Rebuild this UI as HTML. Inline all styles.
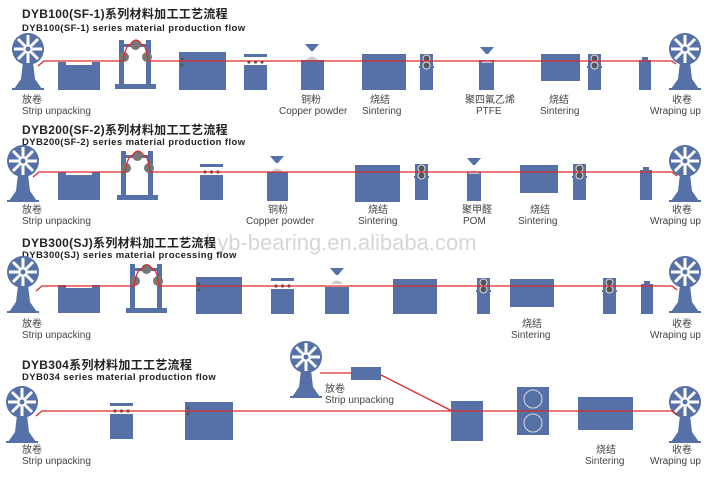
<!DOCTYPE html>
<html><head><meta charset="utf-8"><style>
html,body{margin:0;padding:0;background:#fff;}
svg{display:block;}
text{font-family:"Liberation Sans","Noto Sans CJK SC",sans-serif;fill:#333;}
.t{font-size:12px;font-weight:bold;fill:#222;letter-spacing:0.3px;}
.s{font-size:9.5px;font-weight:bold;fill:#222;letter-spacing:0.4px;}
.l{font-size:10px;fill:#444;}
.b{fill:#5670a8;}
.r{stroke:#dd2a2a;stroke-width:1.3;fill:none;}
</style></head><body>
<svg width="717" height="481" viewBox="0 0 717 481" xmlns="http://www.w3.org/2000/svg">
<defs>
<g id="reel">
 <path class="b" d="M-5,13 L5,13 L7,30 L14,40 L-14,40 L-7,30 Z"/>
 <rect class="b" x="-16" y="39" width="32" height="2"/>
 <circle class="b" r="16"/>
 <g stroke="#fff" stroke-width="3">
  <line x1="0" y1="-5" x2="0" y2="-14"/><line x1="0" y1="5" x2="0" y2="14"/>
  <line x1="-5" y1="0" x2="-14" y2="0"/><line x1="5" y1="0" x2="14" y2="0"/>
  <line x1="3.5" y1="3.5" x2="10" y2="10"/><line x1="-3.5" y1="-3.5" x2="-10" y2="-10"/>
  <line x1="3.5" y1="-3.5" x2="10" y2="-10"/><line x1="-3.5" y1="3.5" x2="-10" y2="10"/>
 </g>
 <circle fill="#fff" r="5"/><circle class="b" r="2.5"/>
</g>
<g id="tank"><path class="b" d="M0,0 H8 V3 H34 V0 H42 V28 H0 Z"/></g>
<g id="frame">
 <rect class="b" x="4" y="0" width="5" height="48"/><rect class="b" x="31" y="0" width="5" height="48"/>
 <rect class="b" x="4" y="4" width="32" height="3"/>
 <rect class="b" x="0" y="44" width="41" height="5"/>
 <circle fill="#777" cx="9" cy="17" r="5"/><circle fill="#777" cx="20.5" cy="5" r="5"/><circle fill="#777" cx="32" cy="17" r="5"/>
</g>
<g id="sbox"><rect class="b" x="0" y="0" width="23" height="3"/><rect class="b" x="0" y="11" width="23" height="25"/>
 <circle fill="#555" cx="5" cy="8" r="1.6"/><circle fill="#555" cx="11.5" cy="8" r="1.6"/><circle fill="#555" cx="18" cy="8" r="1.6"/></g>
<g id="hop"><path class="b" d="M-7,0 H7 L1,7 H-1 Z"/><path fill="#ccc" d="M-6,16 Q0,9 6,16 Z"/></g>
<g id="rol"><rect class="b" x="0" y="0" width="13" height="36"/><rect class="b" x="-1" y="12" width="15" height="2"/>
 <circle fill="#555" stroke="#ddd" stroke-width="1" cx="6.5" cy="4.5" r="3.5"/><circle fill="#555" stroke="#ddd" stroke-width="1" cx="6.5" cy="11.5" r="3.5"/></g>
<g id="bot"><rect class="b" x="0" y="3" width="12" height="30"/><rect class="b" x="3" y="0" width="6" height="4"/></g>
</defs>

<!-- ROW 1 -->
<text class="t" x="22" y="18">DYB100(SF-1)系列材料加工工艺流程</text>
<text class="s" x="22" y="31">DYB100(SF-1) series material production flow</text>
<use href="#reel" x="28" y="49"/>
<use href="#tank" x="58" y="62"/>
<use href="#frame" x="115" y="40"/>
<rect class="b" x="179" y="52" width="47" height="38"/>
<circle fill="#555" cx="182" cy="59" r="1.5"/><circle fill="#555" cx="182" cy="65" r="1.5"/>
<use href="#sbox" x="244" y="54"/>
<rect class="b" x="301" y="60" width="23" height="30"/><use href="#hop" x="312" y="44"/>
<rect class="b" x="362" y="54" width="44" height="36"/>
<use href="#rol" x="420" y="54"/>
<rect class="b" x="479" y="60" width="15" height="30"/><use href="#hop" x="487" y="47"/>
<rect class="b" x="541" y="54" width="39" height="27"/>
<use href="#rol" x="588" y="54"/>
<use href="#bot" x="639" y="57"/>
<use href="#reel" x="685" y="49"/>
<path class="r" d="M38,66 L44,61 H123 Q126,44 130,45 Q136,35 142,45 Q146,44 148,61 H672 L676,64"/>
<text class="l" x="22" y="103">放卷</text><text class="l" x="22" y="114">Strip unpacking</text>
<text class="l" x="301" y="103">铜粉</text><text class="l" x="279" y="114">Copper powder</text>
<text class="l" x="370" y="103">烧结</text><text class="l" x="362" y="114">Sintering</text>
<text class="l" x="465" y="103">聚四氟乙烯</text><text class="l" x="476" y="114">PTFE</text>
<text class="l" x="549" y="103">烧结</text><text class="l" x="540" y="114">Sintering</text>
<text class="l" x="672" y="103">收卷</text><text class="l" x="650" y="114">Wraping up</text>

<!-- ROW 2 -->
<text class="t" x="22" y="134">DYB200(SF-2)系列材料加工工艺流程</text>
<text class="s" x="22" y="145">DYB200(SF-2) series material production flow</text>
<use href="#reel" x="23" y="161"/>
<use href="#tank" x="58" y="172"/>
<use href="#frame" x="117" y="151"/>
<use href="#sbox" x="200" y="164"/>
<rect class="b" x="267" y="172" width="21" height="29"/><use href="#hop" x="277" y="156"/>
<rect class="b" x="355" y="165" width="45" height="37"/>
<use href="#rol" x="415" y="164"/>
<rect class="b" x="467" y="172" width="14" height="29"/><use href="#hop" x="474" y="158"/>
<rect class="b" x="520" y="165" width="38" height="28"/>
<use href="#rol" x="573" y="164"/>
<use href="#bot" x="640" y="167"/>
<use href="#reel" x="685" y="161"/>
<path class="r" d="M33,177 L39,172 H125 Q128,155 132,156 Q138,146 144,156 Q148,155 150,172 H672 L677,176"/>
<text class="l" x="22" y="213">放卷</text><text class="l" x="22" y="224">Strip unpacking</text>
<text class="l" x="268" y="213">铜粉</text><text class="l" x="246" y="224">Copper powder</text>
<text class="l" x="368" y="213">烧结</text><text class="l" x="358" y="224">Sintering</text>
<text class="l" x="462" y="213">聚甲醛</text><text class="l" x="463" y="224">POM</text>
<text class="l" x="530" y="213">烧结</text><text class="l" x="518" y="224">Sintering</text>
<text class="l" x="672" y="213">收卷</text><text class="l" x="650" y="224">Wraping up</text>

<!-- watermark -->
<text x="205" y="250" style="font-size:22px;fill:#c8c8c8;fill-opacity:0.75">hyb-bearing.en.alibaba.com</text>

<!-- ROW 3 -->
<text class="t" x="22" y="247">DYB300(SJ)系列材料加工工艺流程</text>
<text class="s" x="22" y="258">DYB300(SJ) series material processing flow</text>
<use href="#reel" x="23" y="272"/>
<use href="#tank" x="58" y="285"/>
<use href="#frame" x="126" y="264"/>
<rect class="b" x="196" y="277" width="46" height="37"/>
<circle fill="#555" cx="199" cy="284" r="1.5"/><circle fill="#555" cx="199" cy="290" r="1.5"/>
<use href="#sbox" x="271" y="278"/>
<rect class="b" x="325" y="287" width="24" height="27"/><use href="#hop" x="337" y="268"/>
<rect class="b" x="393" y="279" width="44" height="35"/>
<use href="#rol" x="477" y="278"/>
<rect class="b" x="510" y="279" width="44" height="28"/>
<use href="#rol" x="603" y="278"/>
<use href="#bot" x="641" y="281"/>
<use href="#reel" x="685" y="272"/>
<path class="r" d="M36,291 L42,286 H134 Q137,269 141,270 Q147,260 153,270 Q157,269 159,286 H672 L677,290"/>
<text class="l" x="22" y="327">放卷</text><text class="l" x="22" y="338">Strip unpacking</text>
<text class="l" x="522" y="327">烧结</text><text class="l" x="511" y="338">Sintering</text>
<text class="l" x="672" y="327">收卷</text><text class="l" x="650" y="338">Wraping up</text>

<!-- ROW 4 -->
<text class="t" x="22" y="369">DYB304系列材料加工工艺流程</text>
<text class="s" x="22" y="380">DYB034 series material production flow</text>
<use href="#reel" x="22" y="402"/>
<use href="#sbox" x="110" y="403"/>
<rect class="b" x="185" y="402" width="48" height="38"/>
<circle fill="#555" cx="188" cy="408" r="1.5"/><circle fill="#555" cx="188" cy="414" r="1.5"/>
<use href="#reel" x="306" y="357"/>
<rect class="b" x="351" y="367" width="30" height="13"/>
<rect class="b" x="451" y="401" width="32" height="40"/>
<rect class="b" x="517" y="387" width="32" height="48"/>
<circle fill="none" stroke="#ddd" stroke-width="1" cx="533" cy="399" r="9"/>
<circle fill="none" stroke="#ddd" stroke-width="1" cx="533" cy="423" r="9"/>
<rect class="b" x="578" y="397" width="55" height="33"/>
<use href="#reel" x="685" y="402"/>
<path class="r" d="M36,416 L42,411 H672 L677,415"/>
<path class="r" d="M320,373 H351 M381,375 L452,411"/>
<text class="l" x="22" y="453">放卷</text><text class="l" x="22" y="464">Strip unpacking</text>
<text class="l" x="325" y="392">放卷</text><text class="l" x="325" y="403">Strip unpacking</text>
<text class="l" x="596" y="453">烧结</text><text class="l" x="585" y="464">Sintering</text>
<text class="l" x="672" y="453">收卷</text><text class="l" x="650" y="464">Wraping up</text>
</svg>
</body></html>
